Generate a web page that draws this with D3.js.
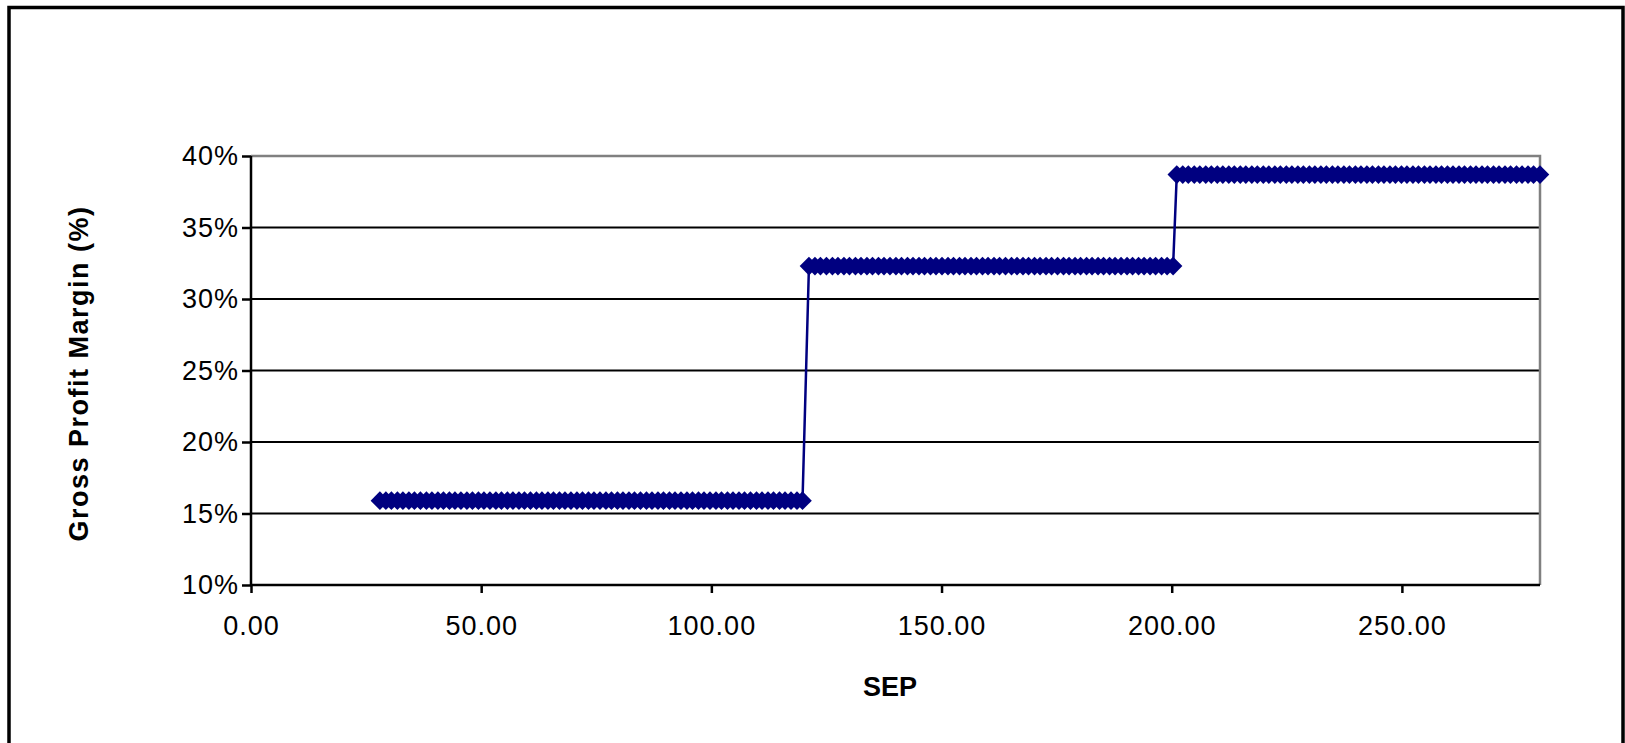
<!DOCTYPE html>
<html>
<head>
<meta charset="utf-8">
<script src="https://cdn.jsdelivr.net/npm/d3@7"></script>
<style>
  html, body { margin: 0; padding: 0; background: #fff; }
  svg { display: block; }
</style>
</head>
<body>
<svg id="chart" width="1625" height="743"></svg>
<script>
// SEP values at each margin tier, and the gross profit margin (%) of that tier
const sepLow = [28.0, 29.3, 30.5, 31.8, 33.0, 34.3, 35.5, 36.8, 38.1, 39.3, 40.6, 41.8, 43.1, 44.3, 45.6, 46.9, 48.1, 49.4, 50.6, 51.9,
  53.2, 54.4, 55.7, 56.9, 58.2, 59.4, 60.7, 62.0, 63.2, 64.5, 65.7, 67.0, 68.2, 69.5, 70.8, 72.0, 73.3, 74.5, 75.8, 77.1,
  78.3, 79.6, 80.8, 82.1, 83.3, 84.6, 85.9, 87.1, 88.4, 89.6, 90.9, 92.1, 93.4, 94.7, 95.9, 97.2, 98.4, 99.7, 101.0, 102.2,
  103.5, 104.7, 106.0, 107.2, 108.5, 109.8, 111.0, 112.3, 113.5, 114.8, 116.0, 117.3, 118.6, 119.8];
const sepMid = [121.2, 122.5, 123.7, 125.0, 126.3, 127.5, 128.8, 130.0, 131.3, 132.5, 133.8, 135.0, 136.3, 137.5, 138.8, 140.1,
  141.3, 142.6, 143.8, 145.1, 146.3, 147.6, 148.8, 150.1, 151.4, 152.6, 153.9, 155.1, 156.4, 157.6, 158.9, 160.1, 161.4, 162.6,
  163.9, 165.2, 166.4, 167.7, 168.9, 170.2, 171.4, 172.7, 173.9, 175.2, 176.5, 177.7, 179.0, 180.2, 181.5, 182.7, 184.0, 185.2,
  186.5, 187.7, 189.0, 190.3, 191.5, 192.8, 194.0, 195.3, 196.5, 197.8, 199.0, 200.3];
const sepHigh = [201.1, 202.4, 203.6, 204.9, 206.1, 207.4, 208.6, 209.9, 211.1, 212.4, 213.6, 214.9, 216.1, 217.4, 218.6, 219.9,
  221.1, 222.4, 223.6, 224.9, 226.1, 227.4, 228.6, 229.9, 231.1, 232.4, 233.6, 234.9, 236.1, 237.4, 238.6, 239.9, 241.1, 242.4,
  243.6, 244.9, 246.1, 247.4, 248.6, 249.9, 251.1, 252.4, 253.6, 254.9, 256.1, 257.4, 258.6, 259.9, 261.1, 262.4, 263.6, 264.9,
  266.1, 267.4, 268.6, 269.9, 271.1, 272.4, 273.6, 274.9, 276.1, 277.4, 278.6, 280.0];
const marginLow = 15.9;
const marginMid = 32.3;
const marginHigh = 38.7;

const xTicks = [0, 50, 100, 150, 200, 250];
const yTicks = [10, 15, 20, 25, 30, 35, 40];
const xTitle = "SEP";
const yTitle = "Gross Profit Margin (%)";

// Build the point series from the tiers
const points = [];
sepLow.forEach(s => points.push({ sep: s, margin: marginLow }));
sepMid.forEach(s => points.push({ sep: s, margin: marginMid }));
sepHigh.forEach(s => points.push({ sep: s, margin: marginHigh }));

const svg = d3.select("#chart");
const plot = { left: 251, right: 1540, top: 156, bottom: 585 };

const x = d3.scaleLinear().domain([0, 280]).range([plot.left, plot.right]);
const y = d3.scaleLinear().domain([10, 40]).range([plot.bottom, plot.top]);

const font = "'Liberation Sans', Arial, sans-serif";
const navy = "#000080";

// Outer frame
svg.append("rect")
  .attr("x", 9).attr("y", 7.5)
  .attr("width", 1614).attr("height", 800)
  .attr("fill", "none").attr("stroke", "#000").attr("stroke-width", 3.5);

// Horizontal gridlines
svg.append("g")
  .selectAll("line")
  .data(yTicks.filter(t => t > 10 && t < 40))
  .join("line")
  .attr("x1", plot.left).attr("x2", plot.right)
  .attr("y1", d => y(d)).attr("y2", d => y(d))
  .attr("stroke", "#000").attr("stroke-width", 2);

// Plot-area border (top and right)
svg.append("path")
  .attr("d", `M${plot.left},${plot.top}H${plot.right}V${plot.bottom}`)
  .attr("fill", "none").attr("stroke", "#808080").attr("stroke-width", 2.5);

// Axes
const fmtPct = d => d + "%";
const yAxis = svg.append("g")
  .attr("transform", `translate(${plot.left},0)`)
  .call(d3.axisLeft(y).tickValues(yTicks).tickFormat(fmtPct).tickSize(9).tickPadding(3));
const xAxis = svg.append("g")
  .attr("transform", `translate(0,${plot.bottom})`)
  .call(d3.axisBottom(x).tickValues(xTicks).tickFormat(d3.format(".2f")).tickSize(8).tickPadding(23));

[xAxis, yAxis].forEach(g => {
  g.select(".domain").attr("stroke", "#000").attr("stroke-width", 2.5);
  g.selectAll(".tick line").attr("stroke", "#000").attr("stroke-width", 2.5);
  g.selectAll(".tick text")
    .attr("fill", "#000")
    .style("font-family", font)
    .style("font-size", "27px")
    .style("letter-spacing", "1px");
});
xAxis.select(".domain").attr("d", `M${plot.left},0H${plot.right}`);
yAxis.select(".domain").attr("d", `M0,${plot.bottom}V${plot.top}`);

// Step line
const line = d3.line().x(d => x(d.sep)).y(d => y(d.margin));
svg.append("path")
  .datum(points)
  .attr("d", line)
  .attr("fill", "none").attr("stroke", navy).attr("stroke-width", 2.5);

// Diamond markers
const diamond = d3.symbol().type(d3.symbolDiamond2).size(220);
svg.append("g")
  .selectAll("path")
  .data(points)
  .join("path")
  .attr("transform", d => `translate(${x(d.sep)},${y(d.margin)})`)
  .attr("d", diamond)
  .attr("fill", navy);

// Axis titles
svg.append("text")
  .attr("x", 890)
  .attr("y", 696)
  .attr("text-anchor", "middle")
  .style("font-family", font).style("font-weight", "bold").style("font-size", "27px")
  .text(xTitle);

svg.append("text")
  .attr("transform", `translate(88,${(plot.top + plot.bottom) / 2 + 3}) rotate(-90)`)
  .attr("text-anchor", "middle")
  .style("font-family", font).style("font-weight", "bold").style("font-size", "27px")
  .style("letter-spacing", "1.5px")
  .text(yTitle);
</script>
</body>
</html>
